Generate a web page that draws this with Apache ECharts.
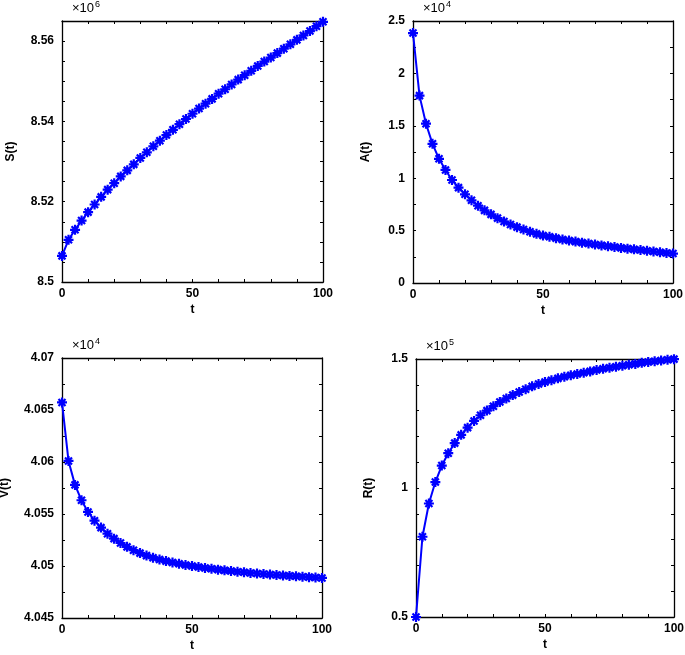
<!DOCTYPE html>
<html><head><meta charset="utf-8">
<script src="https://cdn.jsdelivr.net/npm/echarts@6/dist/echarts.min.js"></script>
<style>html,body{margin:0;padding:0;background:#fff}#c{width:685px;height:655px}</style>
</head><body><div id="c"></div>
<script>
// time points
const tValues = [0,2.5,5,7.5,10,12.5,15,17.5,20,22.5,25,27.5,30,32.5,35,37.5,40,42.5,45,47.5,50,
  52.5,55,57.5,60,62.5,65,67.5,70,72.5,75,77.5,80,82.5,85,87.5,90,92.5,95,97.5,100];
// S(t)
const sValues = [8506500,8510500,8513000,8515300,8517400,8519300,8521200,8523000,8524600,8526300,8527800,
  8529300,8530900,8532300,8533800,8535200,8536600,8537900,8539300,8540600,8541900,
  8543200,8544400,8545600,8546900,8548000,8549200,8550400,8551500,8552600,8553800,
  8554900,8555900,8557000,8558100,8559200,8560300,8561400,8562500,8563700,8564800];
// A(t)
const aValues = [23850,17880,15200,13280,11850,10790,9830,9100,8460,7890,7380,6930,6550,6190,5870,5590,
  5330,5110,4890,4690,4530,4410,4280,4160,4050,3950,3850,3760,3670,3590,3510,3430,3350,3280,
  3210,3140,3070,3000,2940,2870,2810];
// V(t)
const vValues = [40657.3,40601.0,40578.0,40563.2,40552.0,40543.6,40536.9,40531.1,40526.3,40522.1,40518.4,
  40515.2,40512.4,40510.0,40508.0,40506.2,40504.7,40503.3,40502.1,40501.0,40500.0,
  40499.0,40498.1,40497.3,40496.5,40495.8,40495.1,40494.5,40493.9,40493.3,40492.8,
  40492.3,40491.8,40491.3,40490.9,40490.5,40490.1,40489.7,40489.3,40488.9,40488.5];
// R(t)
const rValues = [50000,81100,94000,102300,108700,113500,117400,120600,123400,126000,128200,
  130000,131700,133300,134700,136000,137200,138300,139400,140300,141100,
  141800,142500,143100,143700,144200,144700,145200,145700,146200,146600,
  147000,147400,147800,148100,148500,148800,149100,149400,149700,149950];

// tick labels
const xTickLabels = [0,50,100];
const sTickLabels = [8.5,8.52,8.54,8.56];
const aTickLabels = [0,0.5,1,1.5,2,2.5];
const vTickLabels = [4.045,4.05,4.055,4.06,4.065,4.07];
const rTickLabels = [0.5,1,1.5];

const panels = [
  {vals:sValues, name:'S(t)', scale:1e6, exp:'6', labels:sTickLabels, min:8500000, max:8565000, step:5000,
   grid:{left:62,top:21,width:261,height:261}, nameGap:45},
  {vals:aValues, name:'A(t)', scale:1e4, exp:'4', labels:aTickLabels, min:0, max:25000, step:2500,
   grid:{left:413,top:21,width:260,height:262}, nameGap:41},
  {vals:vValues, name:'V(t)', scale:1e4, exp:'4', labels:vTickLabels, min:40450, max:40700, step:25,
   grid:{left:62,top:358,width:260,height:260}, nameGap:51},
  {vals:rValues, name:'R(t)', scale:1e5, exp:'5', labels:rTickLabels, min:50000, max:150000, step:10000,
   grid:{left:416,top:359,width:258,height:258}, nameGap:41}
];

const FONT = 'Liberation Sans';
const axisLine = {show:true, onZero:false, lineStyle:{color:'#000', width:1.3}};
const axisTick = {show:true, inside:true, length:3, lineStyle:{color:'#000', width:1}};
const starPath = 'path://M5,0L5,10M0,5L10,5M1.5,1.5L8.5,8.5M8.5,1.5L1.5,8.5';

const grids=[], xAxes=[], yAxes=[], series=[], graphics=[];
panels.forEach((p,i)=>{
  grids.push(Object.assign({containLabel:false, outerBoundsMode:'none'}, p.grid));
  const xBase = {type:'value', gridIndex:i, min:0, max:100, interval:10, splitLine:{show:false},
    axisLine, axisTick};
  xAxes.push(Object.assign({}, xBase, {position:'bottom', name:'t', nameLocation:'middle', nameGap:22,
    nameTextStyle:{fontFamily:FONT, fontWeight:'bold', fontSize:12, color:'#000'},
    axisLabel:{show:true, margin:6, showMinLabel:true, showMaxLabel:true, fontFamily:FONT, fontWeight:'bold', fontSize:12, color:'#000',
      formatter:v=> xTickLabels.some(l=>Math.abs(l-v)<1e-6) ? String(v) : ''}}));
  xAxes.push(Object.assign({}, xBase, {position:'top', axisLabel:{show:false}}));
  const yBase = {type:'value', gridIndex:i, min:p.min, max:p.max, interval:p.step, splitLine:{show:false},
    axisLine, axisTick};
  yAxes.push(Object.assign({}, yBase, {position:'left', name:p.name, nameLocation:'middle', nameGap:p.nameGap,
    nameTextStyle:{fontFamily:FONT, fontWeight:'bold', fontSize:12, color:'#000'},
    axisLabel:{show:true, margin:8, showMinLabel:true, showMaxLabel:true, fontFamily:FONT, fontWeight:'bold', fontSize:12, color:'#000',
      formatter:v=>{
        const hit = p.labels.find(l=>Math.abs(l*p.scale - v) < p.step*0.01);
        return hit===undefined ? '' : String(hit);
      }}}));
  yAxes.push(Object.assign({}, yBase, {position:'right', axisLabel:{show:false}}));
  series.push({type:'line', xAxisIndex:2*i, yAxisIndex:2*i, clip:false,
    data:tValues.map((t,k)=>[t,p.vals[k]]),
    symbol:starPath, symbolSize:10, showSymbol:true,
    lineStyle:{color:'#0000ff', width:2},
    itemStyle:{color:'#0000ff', borderColor:'#0000ff', borderWidth:2.2},
    emphasis:{disabled:true}});
  graphics.push({type:'text', left:p.grid.left+10, top:p.grid.top-19,
    style:{text:'×10', font:'13px '+FONT, fill:'#000'}});
  graphics.push({type:'text', left:p.grid.left+33, top:p.grid.top-21,
    style:{text:p.exp, font:'9px '+FONT, fill:'#000'}});
});

const chart = echarts.init(document.getElementById('c'), null, {renderer:'canvas'});
chart.setOption({animation:false, backgroundColor:'#fff', grid:grids, xAxis:xAxes, yAxis:yAxes, series, graphic:graphics});
</script></body></html>
